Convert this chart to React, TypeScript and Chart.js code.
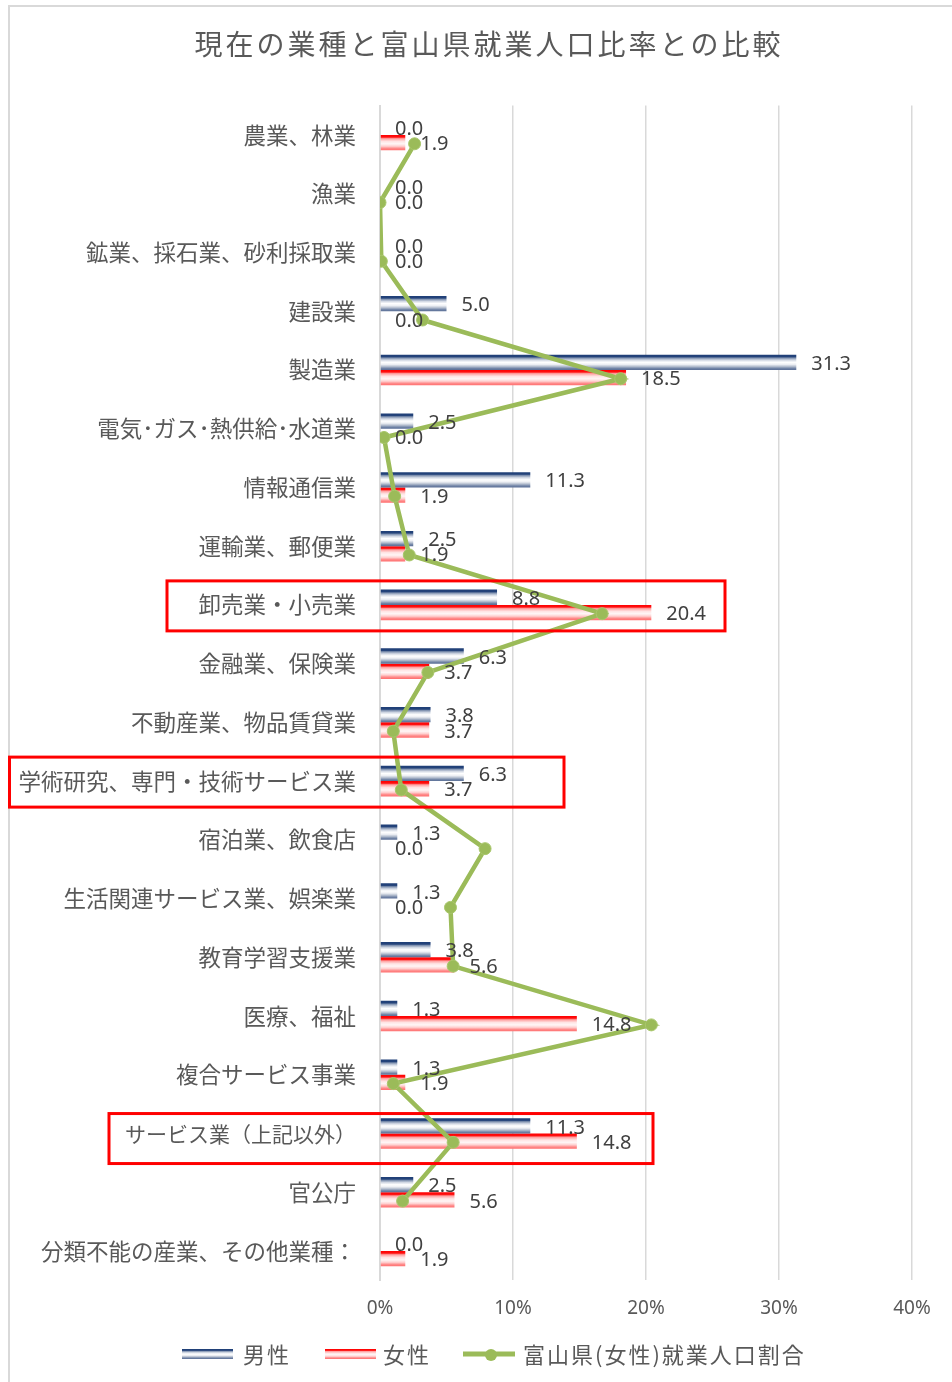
import React, { useEffect, useRef } from 'react';
import { Chart, registerables } from 'chart.js';

Chart.register(...registerables);

const TITLE = '現在の業種と富山県就業人口比率との比較';

const categories = [
  '農業、林業',
  '漁業',
  '鉱業、採石業、砂利採取業',
  '建設業',
  '製造業',
  '電気･ガス･熱供給･水道業',
  '情報通信業',
  '運輸業、郵便業',
  '卸売業・小売業',
  '金融業、保険業',
  '不動産業、物品賃貸業',
  '学術研究、専門・技術サービス業',
  '宿泊業、飲食店',
  '生活関連サービス業、娯楽業',
  '教育学習支援業',
  '医療、福祉',
  '複合サービス事業',
  'サービス業（上記以外）',
  '官公庁',
  '分類不能の産業、その他業種：',
];

const maleValues = [0.0, 0.0, 0.0, 5.0, 31.3, 2.5, 11.3, 2.5, 8.8, 6.3, 3.8, 6.3, 1.3, 1.3, 3.8, 1.3, 1.3, 11.3, 2.5, 0.0];
const femaleValues = [1.9, 0.0, 0.0, 0.0, 18.5, 0.0, 1.9, 1.9, 20.4, 3.7, 3.7, 3.7, 0.0, 0.0, 5.6, 14.8, 1.9, 14.8, 5.6, 1.9];
const toyamaFemaleValues = [2.6, 0.0, 0.1, 3.2, 18.1, 0.3, 1.1, 2.2, 16.7, 3.6, 1.0, 1.6, 7.9, 5.3, 5.5, 20.4, 1.0, 5.5, 1.7, null];

const seriesNames = ['男性', '女性', '富山県(女性)就業人口割合'];
const xTicks = [0, 10, 20, 30, 40];

// highlighted rows (annotation boxes)
const highlightRows = ['卸売業・小売業', '学術研究、専門・技術サービス業', 'サービス業（上記以外）'];
const highlightBoxes = [
  { left: 159, right: 717, dy: 1 },
  { left: 1.5, right: 556, dy: 1 },
  { left: 101, right: 645, dy: 5 },
];

const TEXT = '#595959';
const GREEN = '#9BBB59';
const JP = '"Noto Sans CJK JP", "Noto Sans", sans-serif';
const NUM = '"Noto Sans", "DejaVu Sans", sans-serif';
const LINE_SHIFT = 0.15; // fraction of a category the line sits below the category centre
const NARROW_LABEL = 'サービス業（上記以外）';

const STOPS: [number, string][][] = [
  [
    [0, '#1f3f77'],
    [0.14, '#24437a'],
    [0.22, '#8092b0'],
    [0.36, '#d3d9e4'],
    [0.5, '#ffffff'],
    [0.64, '#eef0f4'],
    [0.78, '#b2bccd'],
    [0.9, '#7184a6'],
    [1, '#5a6e96'],
  ],
  [
    [0, '#ff0000'],
    [0.14, '#ff1010'],
    [0.24, '#ffa0a0'],
    [0.42, '#ffe4e4'],
    [0.58, '#fff6f6'],
    [0.74, '#ffd0d0'],
    [0.88, '#ff8a8a'],
    [1, '#ff6e6e'],
  ],
];

function makeGrad(ctx: CanvasRenderingContext2D, top: number, bot: number, di: number) {
  const g = ctx.createLinearGradient(0, top, 0, bot);
  STOPS[di].forEach(([o, c]) => g.addColorStop(o, c));
  return g;
}

const gradientPlugin = {
  id: 'barGradient',
  afterDatasetsUpdate(chart: any) {
    const yScale = chart.scales.y;
    const step = yScale.getPixelForValue(1) - yScale.getPixelForValue(0);
    const meta = chart.getDatasetMeta(2);
    meta.data.forEach((pt: any) => {
      pt.y = pt.y + step * LINE_SHIFT;
    });
  },
  beforeDatasetsDraw(chart: any) {
    const ctx = chart.ctx;
    [0, 1].forEach((di) => {
      const meta = chart.getDatasetMeta(di);
      meta.data.forEach((el: any) => {
        const p = el.getProps(['y', 'height'], true);
        const top = p.y - p.height / 2;
        const bot = p.y + p.height / 2;
        el.options = Object.assign({}, el.options, { backgroundColor: makeGrad(ctx, top, bot, di) });
      });
    });
  },
};

const decorPlugin = {
  id: 'decor',
  beforeDraw(chart: any) {
    const ctx = chart.ctx;
    ctx.save();
    ctx.fillStyle = '#d9d9d9';
    ctx.fillRect(0, 0, chart.width, 2);
    ctx.fillRect(0, 0, 2, chart.height);
    ctx.restore();
  },
  afterDatasetsDraw(chart: any) {
    const ctx = chart.ctx;
    ctx.save();
    ctx.font = `20px ${NUM}`;
    ctx.fillStyle = '#404040';
    ctx.textAlign = 'left';
    ctx.textBaseline = 'middle';
    [0, 1].forEach((di) => {
      const meta = chart.getDatasetMeta(di);
      const vals = di === 0 ? maleValues : femaleValues;
      meta.data.forEach((el: any, i: number) => {
        const p = el.getProps(['x', 'y'], true);
        ctx.fillText(vals[i].toFixed(1), p.x + 15, p.y + 2);
      });
    });
    ctx.restore();
  },
  afterDraw(chart: any) {
    const ctx = chart.ctx;
    const yScale = chart.scales.y;
    ctx.save();
    // title
    ctx.font = `28px ${JP}`;
    ctx.fillStyle = TEXT;
    ctx.textAlign = 'center';
    ctx.textBaseline = 'middle';
    (ctx as any).letterSpacing = '3px';
    ctx.fillText(TITLE, 481, 39);
    (ctx as any).letterSpacing = '0px';

    // highlight boxes
    ctx.strokeStyle = '#ff0000';
    ctx.lineWidth = 3;
    highlightRows.forEach((name, k) => {
      const idx = categories.indexOf(name);
      const cy = yScale.getPixelForValue(idx) + highlightBoxes[k].dy;
      const b = highlightBoxes[k];
      ctx.strokeRect(b.left, cy - 25, b.right - b.left, 50);
    });

    // legend
    const ly = 1349;
    ctx.textAlign = 'left';
    ctx.font = `22px ${JP}`;
    (ctx as any).letterSpacing = '2px';
    const boxes = [
      { x: 174, tx: 235 },
      { x: 317, tx: 375 },
    ];
    boxes.forEach((b, di) => {
      ctx.fillStyle = makeGrad(ctx, ly - 5, ly + 5, di);
      ctx.fillRect(b.x, ly - 5, 51, 10);
      ctx.fillStyle = TEXT;
      ctx.fillText(seriesNames[di], b.tx, ly + 1);
    });
    ctx.strokeStyle = GREEN;
    ctx.lineWidth = 5;
    ctx.beginPath();
    ctx.moveTo(455, ly);
    ctx.lineTo(507, ly);
    ctx.stroke();
    ctx.fillStyle = GREEN;
    ctx.beginPath();
    ctx.arc(483, ly + 1, 6, 0, Math.PI * 2);
    ctx.fill();
    ctx.fillStyle = TEXT;
    ctx.fillText(seriesNames[2], 515, ly + 1);
    ctx.restore();
  },
};

export default function App() {
  const ref = useRef<HTMLCanvasElement>(null);
  useEffect(() => {
    if (!ref.current) return;
    const chart = new Chart(ref.current, {
      type: 'bar',
      data: {
        labels: categories,
        datasets: [
          {
            label: seriesNames[0],
            data: maleValues,
            backgroundColor: '#1f3f77',
            borderWidth: 0,
            categoryPercentage: 0.52,
            barPercentage: 1.0,
            order: 1,
          } as any,
          {
            label: seriesNames[1],
            data: femaleValues,
            backgroundColor: '#ff0000',
            borderWidth: 0,
            categoryPercentage: 0.52,
            barPercentage: 1.0,
            order: 1,
          } as any,
          {
            type: 'line',
            label: seriesNames[2],
            data: toyamaFemaleValues,
            indexAxis: 'y',
            xAxisID: 'x',
            yAxisID: 'y',
            borderColor: GREEN,
            borderWidth: 4.5,
            pointRadius: 6,
            pointBackgroundColor: GREEN,
            pointBorderColor: '#a9c76c',
            pointBorderWidth: 1,
            tension: 0,
            order: 0,
          } as any,
        ],
      },
      options: {
        indexAxis: 'y',
        responsive: false,
        animation: false,
        devicePixelRatio: 1,
        layout: { padding: { top: 100.6, right: 40, bottom: 61.6, left: 0 } },
        plugins: {
          legend: { display: false },
          title: { display: false },
          tooltip: { enabled: false },
        },
        scales: {
          x: {
            type: 'linear',
            min: xTicks[0],
            max: xTicks[xTicks.length - 1],
            afterBuildTicks: (s: any) => {
              s.ticks = xTicks.map((v) => ({ value: v }));
            },
            afterFit: (s: any) => {
              s.height = 40;
            },
            grid: { color: '#d9d9d9', lineWidth: 1.5, drawTicks: false },
            border: { display: false },
            ticks: {
              padding: 17,
              color: TEXT,
              font: { family: NUM, size: 19 },
              callback: (v: any) => `${v}%`,
            },
          },
          y: {
            type: 'category',
            offset: true,
            afterFit: (s: any) => {
              s.width = 372;
            },
            grid: { display: false, drawTicks: false, offset: true },
            border: { display: true, color: '#d9d9d9', width: 2 },
            ticks: {
              padding: 24,
              color: TEXT,
              autoSkip: false,
              font: (c: any) => ({
                family: JP,
                size: categories[c.index] === NARROW_LABEL ? 21 : 22.5,
              }),
            },
          },
        },
      } as any,
      plugins: [gradientPlugin, decorPlugin],
    });
    return () => chart.destroy();
  }, []);

  return (
    <div style={{ position: 'fixed', left: 8, top: 5, width: 944, height: 1377 }}>
      <canvas ref={ref} width={944} height={1377} style={{ width: 944, height: 1377, display: 'block' }} />
    </div>
  );
}
